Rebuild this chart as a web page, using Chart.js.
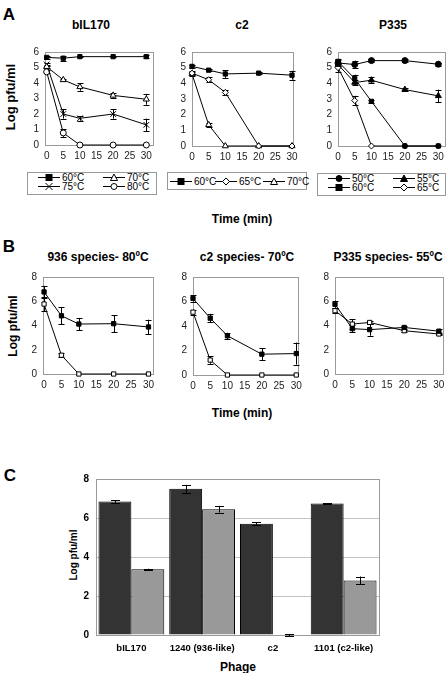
<!DOCTYPE html>
<html>
<head>
<meta charset="utf-8">
<script src="https://cdn.jsdelivr.net/npm/chart.js@4.4.1/dist/chart.umd.min.js"></script>
<style>
body{margin:0;background:#fff;font-family:"Liberation Sans",Arial,sans-serif;}
#fig{position:relative;width:448px;height:673px;overflow:hidden;}
canvas{position:absolute;}
.t{position:absolute;font-weight:bold;color:#000;white-space:nowrap;transform:translate(-50%,-50%);}
.rot{transform:translate(-50%,-50%) rotate(-90deg);}
.lg{position:absolute;border:1px solid #999;box-sizing:border-box;background:#fff;}
.li{position:absolute;height:12px;font-size:10px;display:flex;align-items:center;white-space:nowrap;color:#000;}
.li svg{margin-right:2px;}
</style>
</head>
<body>
<div id="fig">
  <div class="t" style="left:9px;top:15px;font-size:17px">A</div>
  <div class="t" style="left:9px;top:247px;font-size:17px">B</div>
  <div class="t" style="left:10px;top:476px;font-size:17px">C</div>

  <div class="t" style="left:91px;top:25px;font-size:12px">bIL170</div>
  <div class="t" style="left:242px;top:25px;font-size:12px">c2</div>
  <div class="t" style="left:393px;top:25px;font-size:12px">P335</div>
  <div class="t" style="left:98px;top:257px;font-size:12px">936 species- 80ºC</div>
  <div class="t" style="left:247px;top:257px;font-size:12px">c2 species- 70ºC</div>
  <div class="t" style="left:388px;top:257px;font-size:12px">P335 species- 55ºC</div>

  <div class="t rot" style="left:10px;top:97px;font-size:13px">Log pfu/ml</div>
  <div class="t rot" style="left:13px;top:326px;font-size:12px">Log pfu/ml</div>
  <div class="t rot" style="left:73px;top:555px;font-size:10px">Log pfu/ml</div>

  <div class="t" style="left:242px;top:219px;font-size:12px">Time (min)</div>
  <div class="t" style="left:242px;top:413px;font-size:12px">Time (min)</div>
  <div class="t" style="left:238px;top:667px;font-size:12px">Phage</div>

  <div class="lg" style="left:27px;top:172px;width:130px;height:23px"></div>
  <div class="lg" style="left:167px;top:172px;width:140px;height:18px"></div>
  <div class="lg" style="left:317px;top:173px;width:129px;height:23px"></div>
  <div id="legends"></div>

  <canvas id="a1"></canvas>
  <canvas id="a2"></canvas>
  <canvas id="a3"></canvas>
  <canvas id="b1"></canvas>
  <canvas id="b2"></canvas>
  <canvas id="b3"></canvas>
  <canvas id="c"></canvas>
</div>
<script>
const times = [0, 5, 10, 20, 30];
const timeTicks = [0, 5, 10, 15, 20, 25, 30];

// A - bIL170
const bil60 = [5.65, 5.6, 5.7, 5.7, 5.7];
const bil60Err = [0.1, 0.15, 0.05, 0.05, 0.1];
const bil70 = [5.05, 4.2, 3.75, 3.2, 2.95];
const bil70Err = [0.1, 0.05, 0.25, 0.15, 0.35];
const bil75 = [5.2, 2.0, 1.72, 2.0, 1.3];
const bil75Err = [0.1, 0.3, 0.15, 0.3, 0.4];
const bil80 = [4.72, 0.78, 0, 0, 0];
const bil80Err = [0.1, 0.25, 0, 0, 0];

// A - c2
const c2t60 = [5.08, 4.84, 4.6, 4.65, 4.52];
const c2t60Err = [0.12, 0.08, 0.25, 0.05, 0.28];
const c2t65 = [4.65, 4.23, 3.42, 0, 0];
const c2t65Err = [0.12, 0.15, 0.18, 0, 0];
const c2t70 = [4.6, 1.35, 0, 0, 0];
const c2t70Err = [0.1, 0.12, 0, 0, 0];

// A - P335
const p50 = [5.3, 5.2, 5.45, 5.45, 5.22];
const p50Err = [0.2, 0.25, 0.1, 0.1, 0.1];
const p55 = [5.2, 4.05, 4.2, 3.6, 3.2];
const p55Err = [0.1, 0.15, 0.2, 0.08, 0.4];
const p60 = [5.4, 4.3, 2.85, 0, 0];
const p60Err = [0.15, 0.25, 0.1, 0, 0];
const p65 = [5.0, 2.9, 0, 0, 0];
const p65Err = [0.3, 0.3, 0, 0, 0];

// B
const s936Before = [6.77, 4.8, 4.12, 4.15, 3.88];
const s936BeforeErr = [0.5, 0.7, 0.5, 0.7, 0.6];
const s936After = [5.77, 1.55, 0, 0, 0];
const s936AfterErr = [0.6, 0.15, 0, 0, 0];
const sc2Before = [6.25, 4.64, 3.2, 1.7, 1.75];
const sc2BeforeErr = [0.25, 0.35, 0.25, 0.5, 0.9];
const sc2After = [5.13, 1.22, 0, 0, 0];
const sc2AfterErr = [0.2, 0.3, 0, 0, 0];
const sp335Before = [5.75, 3.74, 3.66, 3.84, 3.53];
const sp335BeforeErr = [0.3, 0.3, 0.5, 0.12, 0.2];
const sp335After = [5.22, 4.12, 4.25, 3.57, 3.3];
const sp335AfterErr = [0.2, 0.4, 0.1, 0.1, 0.1];

// C
const phages = ['bIL170', '1240 (936-like)', 'c2', '1101 (c2-like)'];
const phageDark = [6.85, 7.5, 5.7, 6.75];
const phageDarkErr = [0.07, 0.2, 0.08, 0.02];
const phageGray = [3.37, 6.45, 0, 2.8];
const phageGrayErr = [0.03, 0.17, 0.05, 0.2];

const FONT = '"Liberation Sans", Arial, sans-serif';

// plot frame drawn under the data
const frame = {
  id: 'frame',
  beforeDatasetsDraw(chart) {
    const a = chart.chartArea, ctx = chart.ctx;
    ctx.save();
    ctx.strokeStyle = '#9a9a9a';
    ctx.lineWidth = 1;
    ctx.strokeRect(Math.round(a.left) + 0.5, Math.round(a.top) + 0.5,
      Math.round(a.right - a.left), Math.round(a.bottom - a.top));
    ctx.restore();
  }
};

function drawErr(chart, cap) {
  const ctx = chart.ctx, ys = chart.scales.y;
  ctx.save();
  ctx.strokeStyle = '#000';
  ctx.lineWidth = 1;
  chart.data.datasets.forEach((ds, i) => {
    if (!ds.err) return;
    chart.getDatasetMeta(i).data.forEach((el, j) => {
      const e = ds.err[j];
      if (!e) return;
      const d = ds.data[j];
      const v = typeof d === 'object' ? d.y : d;
      const x = Math.round(el.x) + 0.5;
      const y1 = ys.getPixelForValue(v - e), y2 = ys.getPixelForValue(v + e);
      ctx.beginPath();
      ctx.moveTo(x, y1); ctx.lineTo(x, y2);
      ctx.moveTo(x - cap, Math.round(y1) + 0.5); ctx.lineTo(x + cap, Math.round(y1) + 0.5);
      ctx.moveTo(x - cap, Math.round(y2) + 0.5); ctx.lineTo(x + cap, Math.round(y2) + 0.5);
      ctx.stroke();
    });
  });
  ctx.restore();
}

const errUnder = { id: 'errUnder', beforeDatasetsDraw(chart) { drawErr(chart, 3); } };
const errOver = { id: 'errOver', afterDatasetsDraw(chart) { drawErr(chart, 4.5); } };

function lineChart(id, box, xr, ymax, ystep, sets) {
  const cv = document.getElementById(id);
  const YW = 28, PT = 8, PR = 10, XH = 22;
  cv.width = YW + box.r - box.l + PR;
  cv.height = PT + box.b - box.t + XH;
  cv.style.left = (box.l - YW) + 'px';
  cv.style.top = (box.t - PT) + 'px';
  new Chart(cv, {
    type: 'line',
    data: {
      datasets: sets.map(s => ({
        data: times.map((t, i) => ({ x: t, y: s.v[i] })),
        err: s.e,
        borderColor: '#000',
        borderWidth: 1,
        pointStyle: s.p,
        pointRadius: s.r || 3,
        pointBackgroundColor: s.f ? '#000' : '#fff',
        pointBorderColor: '#000',
        pointBorderWidth: 1,
        clip: false,
        tension: 0
      }))
    },
    options: {
      responsive: false,
      animation: false,
      devicePixelRatio: 1,
      layout: { padding: { top: PT, right: PR, left: 0, bottom: 0 } },
      plugins: { legend: { display: false }, tooltip: { enabled: false } },
      scales: {
        x: {
          type: 'linear', min: xr[0], max: xr[1],
          afterBuildTicks: s => { s.ticks = timeTicks.map(v => ({ value: v })); },
          afterFit: s => { s.height = XH; },
          grid: { display: false, drawTicks: false },
          border: { display: false },
          ticks: { padding: 5, maxRotation: 0, autoSkip: false, color: '#222', font: { family: FONT, size: 10 } }
        },
        y: {
          min: 0, max: ymax,
          afterFit: s => { s.width = YW; },
          grid: { display: false, drawTicks: false },
          border: { display: false },
          ticks: { stepSize: ystep, padding: 6, color: '#222', font: { family: FONT, size: 10 } }
        }
      }
    },
    plugins: [frame, errUnder]
  });
}

lineChart('a1', { l: 45, t: 48, r: 153, b: 145 }, [-0.5, 32], 6, 1, [
  { v: bil60, e: bil60Err, p: 'rect', f: true },
  { v: bil70, e: bil70Err, p: 'triangle', r: 3.5 },
  { v: bil75, e: bil75Err, p: 'crossRot', r: 4 },
  { v: bil80, e: bil80Err, p: 'circle' }
]);
lineChart('a2', { l: 192, t: 48, r: 293, b: 146 }, [0, 30.3], 6, 1, [
  { v: c2t60, e: c2t60Err, p: 'rect', f: true },
  { v: c2t65, e: c2t65Err, p: 'rectRot' },
  { v: c2t70, e: c2t70Err, p: 'triangle', r: 3.5 }
]);
lineChart('a3', { l: 338, t: 48, r: 445, b: 146 }, [0, 32], 6, 1, [
  { v: p50, e: p50Err, p: 'circle', f: true },
  { v: p55, e: p55Err, p: 'triangle', r: 3.5, f: true },
  { v: p60, e: p60Err, p: 'rect', f: true },
  { v: p65, e: p65Err, p: 'rectRot' }
]);
lineChart('b1', { l: 43, t: 273, r: 153, b: 374 }, [-0.3, 31.3], 8, 2, [
  { v: s936Before, e: s936BeforeErr, p: 'rect', f: true },
  { v: s936After, e: s936AfterErr, p: 'rect' }
]);
lineChart('b2', { l: 193, t: 273, r: 298, b: 375 }, [0, 30.5], 8, 2, [
  { v: sc2Before, e: sc2BeforeErr, p: 'rect', f: true },
  { v: sc2After, e: sc2AfterErr, p: 'rect' }
]);
lineChart('b3', { l: 335, t: 273, r: 443, b: 374 }, [0, 31.2], 8, 2, [
  { v: sp335Before, e: sp335BeforeErr, p: 'rect', f: true },
  { v: sp335After, e: sp335AfterErr, p: 'rect' }
]);

// panel C bars
(function () {
  const cv = document.getElementById('c');
  const box = { l: 96, t: 474, r: 379, b: 635 };
  const YW = 24, PT = 8, PR = 12, XH = 30;
  cv.width = YW + box.r - box.l + PR;
  cv.height = PT + box.b - box.t + XH;
  cv.style.left = (box.l - YW) + 'px';
  cv.style.top = (box.t - PT) + 'px';
  new Chart(cv, {
    type: 'bar',
    data: {
      labels: phages,
      datasets: [
        { data: phageDark, err: phageDarkErr, backgroundColor: '#333333', borderColor: '#000', borderWidth: 1, categoryPercentage: 0.93, barPercentage: 1 },
        { data: phageGray, err: phageGrayErr, backgroundColor: '#999999', borderColor: '#000', borderWidth: 1, categoryPercentage: 0.93, barPercentage: 1 }
      ]
    },
    options: {
      responsive: false,
      animation: false,
      devicePixelRatio: 1,
      layout: { padding: { top: PT, right: PR, left: 0, bottom: 0 } },
      plugins: { legend: { display: false }, tooltip: { enabled: false } },
      scales: {
        x: {
          afterFit: s => { s.height = XH; },
          grid: { display: false, drawTicks: false },
          border: { display: false },
          ticks: { padding: 8, maxRotation: 0, autoSkip: false, color: '#000', font: { family: FONT, size: 9.5, weight: 'bold' } }
        },
        y: {
          min: 0, max: 8,
          afterFit: s => { s.width = YW; },
          grid: { color: '#c4c4c4', drawTicks: false },
          border: { display: false },
          ticks: { stepSize: 2, padding: 7, color: '#000', font: { family: FONT, size: 10, weight: 'bold' } }
        }
      }
    },
    plugins: [frame, errOver]
  });
})();

// legends
function sym(shape, filled) {
  const f = filled ? '#000' : '#fff';
  let m = '';
  if (shape === 'rect') m = `<rect x="8" y="1.5" width="6" height="6" fill="${f}" stroke="#000"/>`;
  if (shape === 'circle') m = `<circle cx="11" cy="4.5" r="3" fill="${f}" stroke="#000"/>`;
  if (shape === 'triangle') m = `<polygon points="11,1 14.5,7.5 7.5,7.5" fill="${f}" stroke="#000"/>`;
  if (shape === 'diamond') m = `<polygon points="11,1 14.5,4.5 11,8 7.5,4.5" fill="${f}" stroke="#000"/>`;
  if (shape === 'cross') m = `<path d="M7.5,1 L14.5,8 M14.5,1 L7.5,8" stroke="#000"/>`;
  return `<svg width="22" height="9"><line x1="0" y1="4.5" x2="22" y2="4.5" stroke="#000"/>${m}</svg>`;
}
const legendItems = [
  [38, 177, 'rect', true, '60°C'], [103, 177, 'triangle', false, '70°C'],
  [38, 186, 'cross', false, '75°C'], [103, 186, 'circle', false, '80°C'],
  [170, 181, 'rect', true, '60°C'], [215, 181, 'diamond', false, '65°C'], [263, 181, 'triangle', false, '70°C'],
  [328, 178, 'circle', true, '50°C'], [393, 178, 'triangle', true, '55°C'],
  [328, 187, 'rect', true, '60°C'], [393, 187, 'diamond', false, '65°C']
];
document.getElementById('legends').innerHTML = legendItems.map(it =>
  `<div class="li" style="left:${it[0]}px;top:${it[1] - 6}px">${sym(it[2], it[3])}<span>${it[4]}</span></div>`
).join('');
</script>
</body>
</html>
